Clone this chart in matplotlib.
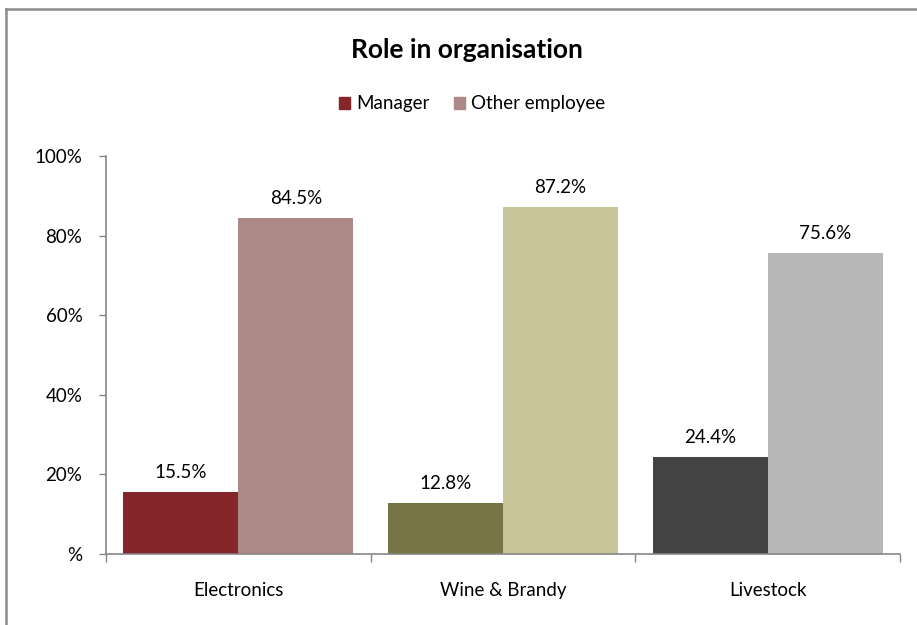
import matplotlib
matplotlib.use("Agg")
import matplotlib.pyplot as plt
from matplotlib.lines import Line2D
from matplotlib.patches import Patch
import numpy as np

plt.rcParams['font.family'] = ['Lato', 'DejaVu Sans']

categories = ["Electronics", "Wine & Brandy", "Livestock"]
series_names = ["Manager", "Other employee"]
manager = [15.5, 12.8, 24.4]
other = [84.5, 87.2, 75.6]
manager_colors = ["#85262B", "#777445", "#444444"]
other_colors = ["#AC8886", "#C8C59A", "#B8B8B8"]
y_ticks = [0, 20, 40, 60, 80, 100]
y_tick_labels = ["%", "20%", "40%", "60%", "80%", "100%"]

fig = plt.figure(figsize=(9.17, 6.25), dpi=100)
ax = fig.add_axes([106 / 917, 1 - 554 / 625, (900 - 106) / 917, (554 - 156) / 625])

x = np.arange(len(categories))
w = 0.434
bars_m = ax.bar(x - w / 2, manager, width=w, color=manager_colors)
bars_o = ax.bar(x + w / 2, other, width=w, color=other_colors)

for bars, vals in ((bars_m, manager), (bars_o, other)):
    for b, v in zip(bars, vals):
        ax.annotate(f"{v:.1f}%", (b.get_x() + b.get_width() / 2, v),
                    xytext=(0, 8), textcoords="offset points",
                    ha="center", va="bottom", fontsize=13.5, color="#000000")

ax.set_xlim(-0.5, len(categories) - 0.5)
ax.set_ylim(0, 100)
ax.set_yticks(y_ticks)
ax.set_yticklabels(y_tick_labels, fontsize=13.5)
ax.set_xticks(x)
ax.set_xticklabels(categories, fontsize=13.5)
ax.tick_params(axis="x", length=0, pad=20)
ax.tick_params(axis="y", length=5, width=1, color="#868686", pad=12)
# category separators as minor ticks on the x axis
ax.set_xticks(np.arange(len(categories) + 1) - 0.5, minor=True)
ax.tick_params(axis="x", which="minor", length=6, width=1, color="#868686")
for s in ("top", "right"):
    ax.spines[s].set_visible(False)
for s in ("left", "bottom"):
    ax.spines[s].set_color("#868686")
    ax.spines[s].set_linewidth(1.2)

fig.text(467 / 917, 1 - 50 / 625, "Role in organisation", ha="center", va="center",
         fontsize=19, fontweight="bold")

handles = [Patch(color=manager_colors[0]), Patch(color=other_colors[0])]
fig.legend(handles, series_names, loc="center", bbox_to_anchor=(472 / 917, 1 - 104 / 625),
           ncol=2, frameon=False, fontsize=13.5, handlelength=0.6, handleheight=0.6,
           handletextpad=0.3, columnspacing=1.3)

# outer chart border (left and top edges)
fig.add_artist(Line2D([6 / 917, 6 / 917], [0, 1 - 9 / 625], transform=fig.transFigure,
                      color="#8C8C8C", linewidth=1.8))
fig.add_artist(Line2D([6 / 917, 1], [1 - 9 / 625, 1 - 9 / 625], transform=fig.transFigure,
                      color="#8C8C8C", linewidth=1.8))

fig.savefig("out.png", dpi=100)
